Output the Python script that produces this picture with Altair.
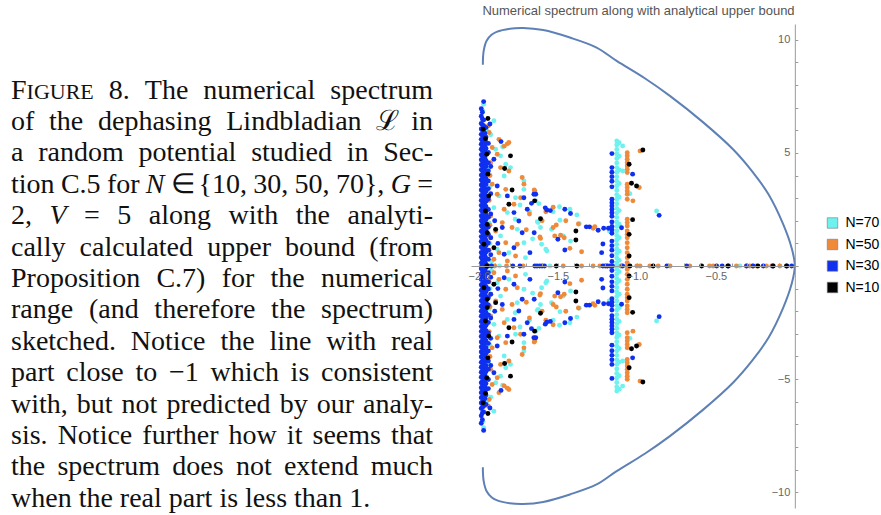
import altair as alt
import pandas as pd

# ---------------- scatter data ----------------
# upper half-plane points; the spectrum is closed under complex conjugation,
# so the lower half is the mirror image. Real eigenvalues listed separately.

# N=30 (blue): dense column near Re = -2
n30_col_re = [-1.985, -1.978, -1.97, -1.962, -1.955, -1.94, -1.925]
n30_col_im = [
    [0.12, 0.38, 0.6, 0.84, 1.08, 1.3, 1.54, 1.78, 2.0, 2.22, 2.46, 2.68, 2.9, 3.12, 3.36,
     3.58, 3.8, 4.02, 4.26, 4.48, 4.7, 4.92, 5.16, 5.38, 5.6, 5.82, 6.06, 6.3, 6.62, 6.95],
    [0.02, 0.28, 0.52, 0.78, 1.02, 1.24, 1.48, 1.72, 1.94, 2.16, 2.4, 2.62, 2.84, 3.08, 3.3,
     3.52, 3.74, 3.96, 4.2, 4.42, 4.64, 4.86, 5.1, 5.32, 5.54, 5.78, 6.0, 6.24, 6.5, 6.8],
    [0.25, 0.5, 0.72, 0.96, 1.2, 1.42, 1.66, 1.9, 2.12, 2.34, 2.58, 2.8, 3.02, 3.24, 3.48,
     3.7, 3.92, 4.14, 4.38, 4.6, 4.82, 5.04, 5.28, 5.5, 5.72, 5.96, 6.2, 6.45, 7.27],
    [0.2, 0.46, 0.74, 1.0, 1.26, 1.5, 1.72, 1.96, 2.2, 2.44, 2.7, 2.94, 3.18, 3.42, 3.68,
     3.94, 4.22, 4.5, 4.78, 5.06, 5.32, 5.58, 5.86],
    [0.08, 0.34, 0.62, 0.9, 1.14, 1.36, 1.6, 1.86, 2.06, 2.3, 2.62, 2.86, 3.06, 3.3, 3.6,
     3.86, 4.1, 4.4, 4.66, 4.96, 5.2, 5.46, 5.7, 6.12],
    [0.3, 0.7, 1.02, 1.4, 1.72, 2.16, 2.5, 2.96, 3.42, 3.76, 4.2, 4.56, 5.02, 5.42],
    [0.5, 1.25, 2.3, 3.2, 4.4],
]
n30_re = [-1.93, -1.905, -1.884, -1.82, -1.778, -1.715, -1.64, -1.694, -1.747, -1.852,
          -1.726, -1.65, -1.778, -1.84, -1.667, -1.652, -1.58, -1.57, -1.548, -1.456,
          -1.42, -1.5, -1.456, -1.677, -1.32, -1.30, -1.245, -1.21, -1.18, -1.223,
          -1.215, -1.097, -1.027, -0.859, -1.86, -1.9, -1.88]
n30_im = [6.28, 4.72, 3.54, 3.1, 2.36, 3.02, 3.17, 2.51, 1.99, 1.7,
          1.47, 1.47, 0.81, 0.52, 2.77, 3.17, 2.57, 2.48, 2.45, 2.51,
          2.32, 1.18, 0.71, 0.59, 1.73, 1.73, 1.58, 1.67, 1.67, 0.59,
          0.97, 1.69, 4.06, 2.24, 5.5, 2.0, 1.0]
n30_line_re = [-1.158]
n30_line_im = [[4.97, 4.35, 4.15, 3.95, 3.75, 3.5, 2.95, 2.8, 2.65, 2.5, 2.35, 2.2, 1.95,
                1.75, 1.6, 1.45, 1.1, 0.9, 0.7, 0.45, 0.2]]
n30_axis = [-1.985, -1.97, -1.955, -1.94, -1.92, -1.785, -1.74, -1.646, -1.632, -1.615,
            -1.6, -1.585, -1.215, -1.2, -1.185, -1.17, -1.155, -1.09, -0.81, -0.685,
            -0.495, -0.46, -0.42, -0.306, -0.265, -0.2, -0.14, -0.05, -0.02]

# N=70 (cyan)
n70_re = [-1.97, -1.975, -1.905, -1.95, -1.894, -1.863, -1.83, -1.8, -1.84, -1.715,
          -1.715, -1.873, -1.768, -1.64, -1.905, -1.82, -1.77, -1.61, -1.863, -1.757,
          -1.715, -1.884, -1.81, -1.705, -1.85, -1.925, -1.93, -1.935, -1.93, -1.92,
          -1.94, -1.62, -1.53, -1.63, -1.603, -1.576, -1.365, -1.38, -1.42, -1.57,
          -1.487, -1.625, -1.466, -1.54, -1.424, -1.49, -1.175, -1.68, -1.66, -1.74,
          -0.875, -1.09, -1.09, -1.044]
n70_im = [7.15, 6.86, 6.42, 6.0, 5.16, 4.87, 4.5, 4.35, 3.98, 3.76,
          3.39, 3.1, 3.02, 2.88, 2.58, 2.36, 2.07, 1.7, 1.33, 1.62,
          1.03, 0.74, 0.59, 0.37, 5.27, 5.8, 3.5, 1.9, 1.0, 0.2,
          4.3, 2.76, 2.4, 1.96, 0.96, 0.74, 1.87, 2.26, 1.1, 0.66,
          2.02, 1.92, 1.33, 1.62, 2.51, 2.62, 1.55, 2.4, 1.2, 2.7,
          2.43, 5.31, 4.2, 3.2]
n70_line_re = [-1.127, -1.112]
n70_line_im = [
    [5.53, 5.35, 5.15, 4.95, 4.75, 4.55, 4.35, 4.15, 3.95, 3.75, 3.55, 3.35, 3.15, 2.95,
     2.75, 2.55, 2.35, 2.15, 1.95, 1.75, 1.55, 1.35, 1.15, 0.95, 0.75, 0.55, 0.35, 0.15],
    [5.45, 4.85, 4.25, 3.65, 3.05, 2.45, 1.85, 1.25, 0.65, 0.25],
]
n70_axis = [-1.955, -1.92, -1.87, -1.55, -1.13, -1.12, -1.105, -0.348]

# N=50 (orange)
n50_re = [-1.873, -1.84, -1.81, -1.916, -1.884, -1.926, -1.863, -1.81, -1.726, -1.715,
          -1.916, -1.83, -1.884, -1.736, -1.778, -1.84, -1.926, -1.852, -1.79, -1.894,
          -1.926, -1.83, -1.757, -1.873, -1.768, -1.905, -1.82, -1.94, -1.935, -1.93,
          -1.935, -1.93, -1.935, -1.82, -1.65, -1.646, -1.576, -1.53, -1.51, -1.61,
          -1.52, -1.424, -1.35, -1.37, -1.277, -1.6, -1.68, -1.7, -1.46, -1.45,
          -1.53, -1.614, -1.483, -1.266, -0.98, -0.985, -1.025]
n50_im = [5.6, 5.3, 5.46, 5.24, 4.94, 4.57, 4.35, 4.2, 3.91, 3.62,
          3.62, 3.39, 3.17, 3.02, 2.73, 2.51, 2.21, 1.92, 1.7, 1.55,
          1.25, 1.03, 0.96, 0.59, 0.44, 0.3, 0.22, 6.2, 5.9, 4.0,
          2.9, 1.8, 0.7, 5.4, 3.36, 3.32, 2.4, 2.6, 1.81, 1.22,
          1.33, 0.78, 0.63, 1.86, 1.67, 2.0, 2.3, 1.6, 1.25, 2.0,
          1.7, 1.28, 1.36, 1.74, 5.09, 3.47, 2.88]
n50_line_re = [-1.061]
n50_line_im = [[5.01, 4.87, 4.72, 4.57, 4.42, 4.28, 4.13, 3.62, 3.47, 3.32, 3.17, 2.95,
                2.07, 1.92, 1.77, 1.55, 1.4, 1.25, 1.03, 0.81, 0.59, 0.37, 0.15]]
n50_axis = [-1.9, -1.825, -1.72, -1.466, -1.35, -1.277, -1.234, -1.19, -1.10, -1.061,
            -1.0, -0.98, -0.918, -0.865, -0.79, -0.665, -0.54, -0.517, -0.37, -0.306,
            -0.285, -0.266, -0.242, -0.18, -0.146, -0.095]

# N=10 (black)
n10_re = [-1.973, -1.943, -1.958, -1.95, -1.8, -1.943, -1.837, -1.79, -1.937, -1.81,
          -1.958, -1.647, -1.947, -1.894, -1.947, -1.61, -1.968, -1.905, -1.386, -1.386,
          -0.962, -1.049, -1.034, -1.002, -1.027, -1.049, -1.049]
n10_im = [6.05, 6.52, 5.63, 4.94, 4.87, 4.06, 4.31, 3.36, 3.1, 2.73,
          2.43, 2.88, 1.84, 1.62, 1.47, 2.09, 0.96, 0.81, 1.55, 1.15,
          5.13, 4.5, 3.66, 3.54, 2.05, 1.4, 0.44]
n10_line_re = []
n10_line_im = []
n10_axis = [-1.95, -1.51, -1.38, -1.044, -0.897, -0.59, -0.424, -0.234, -0.137, -0.053]

# analytical upper bound, upper half (from the left end to the origin)
curve_re = [-1.975, -1.97, -1.951, -1.92, -1.888, -1.804, -1.72, -1.593, -1.424, -1.255,
            -1.128, -0.95, -0.791, -0.58, -0.39, -0.264, -0.165, -0.074, -0.021, 0.0]
curve_im = [8.9, 9.5, 9.96, 10.22, 10.35, 10.49, 10.52, 10.43, 10.1, 9.66,
            9.07, 8.3, 7.52, 6.35, 5.15, 4.13, 3.15, 1.85, 0.81, 0.0]

series_order = ["N=70", "N=50", "N=30", "N=10"]
series_colors = ["#6EF2F0", "#EE8A3A", "#1030F0", "#000000"]

x_ticks = [-2.0, -1.9, -1.8, -1.7, -1.6, -1.5, -1.4, -1.3, -1.2, -1.1,
           -1.0, -0.9, -0.8, -0.7, -0.6, -0.5, -0.4, -0.3, -0.2, -0.1]
y_ticks = [-10, -9, -8, -7, -6, -5, -4, -3, -2, -1, 0, 1, 2, 3, 4, 5, 6, 7, 8, 9, 10]

title_text = "Numerical spectrum along with analytical upper bound"

caption_lines = [
    "FIGURE 8. The numerical spectrum",
    "of the dephasing Lindbladian ℒ in",
    "a random potential studied in Sec-",
    "tion C.5 for _N_ ∈ {10, 30, 50, 70}, _G_ =",
    "2, _V_ = 5 along with the analyti-",
    "cally calculated upper bound (from",
    "Proposition C.7) for the numerical",
    "range (and therefore the spectrum)",
    "sketched. Notice the line with real",
    "part close to −1 which is consistent",
    "with, but not predicted by our analy-",
    "sis. Notice further how it seems that",
    "the spectrum does not extend much",
    "when the real part is less than 1.",
]

# ---------------- build tables ----------------
groups = {
    "N=70": (n70_re, n70_im, n70_line_re, n70_line_im, n70_axis),
    "N=50": (n50_re, n50_im, n50_line_re, n50_line_im, n50_axis),
    "N=30": (n30_re, n30_im, n30_col_re + n30_line_re, n30_col_im + n30_line_im, n30_axis),
    "N=10": (n10_re, n10_im, n10_line_re, n10_line_im, n10_axis),
}
rows = []
for s in series_order:
    re_l, im_l, col_re, col_im, ax = groups[s]
    pairs = list(zip(re_l, im_l))
    for cx, cys in zip(col_re, col_im):
        pairs += [(cx, cy) for cy in cys]
    for r, i in pairs:
        rows.append({"series": s, "re": r, "im": i})
        rows.append({"series": s, "re": r, "im": -i})
    for r in ax:
        rows.append({"series": s, "re": r, "im": 0.0})
pts_df = pd.DataFrame(rows)

c_re = curve_re + curve_re[-2::-1]
c_im = curve_im + [-v for v in curve_im[-2::-1]]
curve_df = pd.DataFrame({"re": c_re, "im": c_im, "k": list(range(len(c_re)))})

# ---------------- caption layout (Times metrics, justified) ----------------
AFM = {" ": 250, "!": 333, "(": 333, ")": 333, ",": 250, "-": 333, ".": 250, "=": 564,
       "{": 480, "}": 480, "−": 564, "∈": 760, "ℒ": 720,
       "A": 722, "B": 667, "C": 667, "D": 722, "E": 611, "F": 556, "G": 722, "H": 722,
       "I": 333, "J": 389, "K": 722, "L": 611, "M": 889, "N": 722, "O": 722, "P": 556,
       "Q": 722, "R": 667, "S": 556, "T": 611, "U": 722, "V": 722, "W": 944, "X": 722,
       "Y": 722, "Z": 611,
       "a": 444, "b": 500, "c": 444, "d": 500, "e": 444, "f": 333, "g": 500, "h": 500,
       "i": 278, "j": 278, "k": 500, "l": 278, "m": 778, "n": 500, "o": 500, "p": 500,
       "q": 500, "r": 333, "s": 389, "t": 278, "u": 500, "v": 500, "w": 722, "x": 500,
       "y": 500, "z": 444}
for d in "0123456789":
    AFM[d] = 500
AFM_IT = {"N": 667, "G": 722, "V": 611}

CAP_FS = 28
SC_FS = 22
LEFT, RIGHT = 11, 433
PLOT_TOP = 23                      # page y of the plot's top edge (caption shares this origin)
BASE0, STEP = 97.5 - PLOT_TOP, 31.4


def tw(s, fs, italic=False):
    tab = AFM_IT if italic else {}
    return sum(tab.get(ch, AFM.get(ch, 500)) for ch in s) / 1000.0 * fs


cap_rows = []
for li, line in enumerate(caption_lines):
    toks = line.split(" ")
    items = []
    for t in toks:
        if t == "FIGURE":
            w1 = tw("F", CAP_FS)
            items.append(([("F", 0.0, CAP_FS, 0), ("IGURE", w1, SC_FS, 0)],
                          w1 + tw("IGURE", SC_FS)))
        elif len(t) > 2 and t.startswith("_") and t.endswith("_"):
            core = t[1:-1]
            items.append(([(core, 0.0, CAP_FS, 1)], tw(core, CAP_FS, True)))
        else:
            items.append(([(t, 0.0, CAP_FS, 0)], tw(t, CAP_FS)))
    total = sum(w for _, w in items)
    if li < len(caption_lines) - 1 and len(items) > 1:
        gap = (RIGHT - LEFT - total) / (len(items) - 1)
    else:
        gap = tw(" ", CAP_FS)
    x = LEFT
    for pieces, w in items:
        for txt, dx, fs, it in pieces:
            cap_rows.append({"t": txt, "px": x + dx, "py": BASE0 + STEP * li, "fs": fs, "it": it})
        x += w + gap
cap_df = pd.DataFrame(cap_rows)

# ---------------- charts ----------------
X_DOM = [-2.05, 0.02]
Y_DOM = [-10.7, 10.7]
W, H = 327, 484
x0px = W * (0 - X_DOM[0]) / (X_DOM[1] - X_DOM[0])
y0px = H * (Y_DOM[1] - 0) / (Y_DOM[1] - Y_DOM[0])

AX_FONT = "Liberation Sans"
xs = alt.Scale(domain=X_DOM, nice=False, zero=False)
ys = alt.Scale(domain=Y_DOM, nice=False, zero=False)
x_axis = alt.Axis(orient="top", offset=-y0px, values=x_ticks, format=".1f",
                  labelExpr="abs(datum.value*2 - round(datum.value*2)) < 0.001 ? datum.label : ''",
                  labelBaseline="top", labelPadding=-7, tickSize=3, grid=False,
                  labelFlush=False, labelOverlap=False, labelFont=AX_FONT, labelFontSize=11,
                  labelColor="#666666", domainColor="#9a9a9a", tickColor="#9a9a9a",
                  domainWidth=1, tickWidth=1, title=None, zindex=1)
y_axis = alt.Axis(orient="right", offset=-(W - x0px), values=y_ticks, format="d",
                  labelExpr="datum.value % 5 == 0 && datum.value != 0 ? datum.label : ''",
                  labelAlign="right", labelPadding=-8, tickSize=3, grid=False,
                  labelFlush=False, labelOverlap=False, labelFont=AX_FONT, labelFontSize=11,
                  labelColor="#666666", domainColor="#9a9a9a", tickColor="#9a9a9a",
                  domainWidth=1, tickWidth=1, title=None, zindex=1)

curve = alt.Chart(curve_df).mark_line(color="#5E81B5", strokeWidth=2,
                                      interpolate="catmull-rom").encode(
    x=alt.X("re:Q", scale=xs, axis=x_axis),
    y=alt.Y("im:Q", scale=ys, axis=y_axis),
    order="k:Q",
)

legend = alt.Legend(title=None, orient="none", legendX=825.5, legendY=192,
                    symbolType="square", symbolSize=110, symbolStrokeColor="#777777",
                    symbolStrokeWidth=0.6, symbolOpacity=1, labelFont=AX_FONT,
                    labelFontSize=14, labelColor="#000000", rowPadding=7.5, labelOffset=6,
                    padding=0)

points = alt.Chart(pts_df).mark_circle(size=24, opacity=1).encode(
    x=alt.X("re:Q", scale=xs, axis=x_axis),
    y=alt.Y("im:Q", scale=ys, axis=y_axis),
    color=alt.Color("series:N", sort=series_order,
                    scale=alt.Scale(domain=series_order, range=series_colors),
                    legend=legend),
)

scatter = alt.layer(curve, points).properties(
    width=W, height=H,
    title=alt.TitleParams(title_text, font=AX_FONT, fontSize=13, fontWeight="normal",
                          color="#555555", anchor="middle", offset=6, dx=4),
)

cap_base = alt.Chart(cap_df)
cap_norm = cap_base.transform_filter("datum.it == 0").mark_text(
    align="left", baseline="alphabetic", font="Liberation Serif", color="#111111").encode(
    x=alt.X("px:Q", scale=None, axis=None),
    y=alt.Y("py:Q", scale=None, axis=None),
    size=alt.Size("fs:Q", scale=None, legend=None),
    text="t:N",
)
cap_ital = cap_base.transform_filter("datum.it == 1").mark_text(
    align="left", baseline="alphabetic", font="Liberation Serif", fontStyle="italic",
    color="#111111").encode(
    x=alt.X("px:Q", scale=None, axis=None),
    y=alt.Y("py:Q", scale=None, axis=None),
    size=alt.Size("fs:Q", scale=None, legend=None),
    text="t:N",
)
caption = alt.layer(cap_norm, cap_ital).properties(width=468, height=H)

chart = alt.hconcat(caption, scatter, spacing=0).properties(
    padding={"top": 5, "left": 0, "right": 0, "bottom": 0}, background="white"
).configure_view(stroke=None)

chart.save("out.html", embed_options={"renderer": "svg", "actions": False})
